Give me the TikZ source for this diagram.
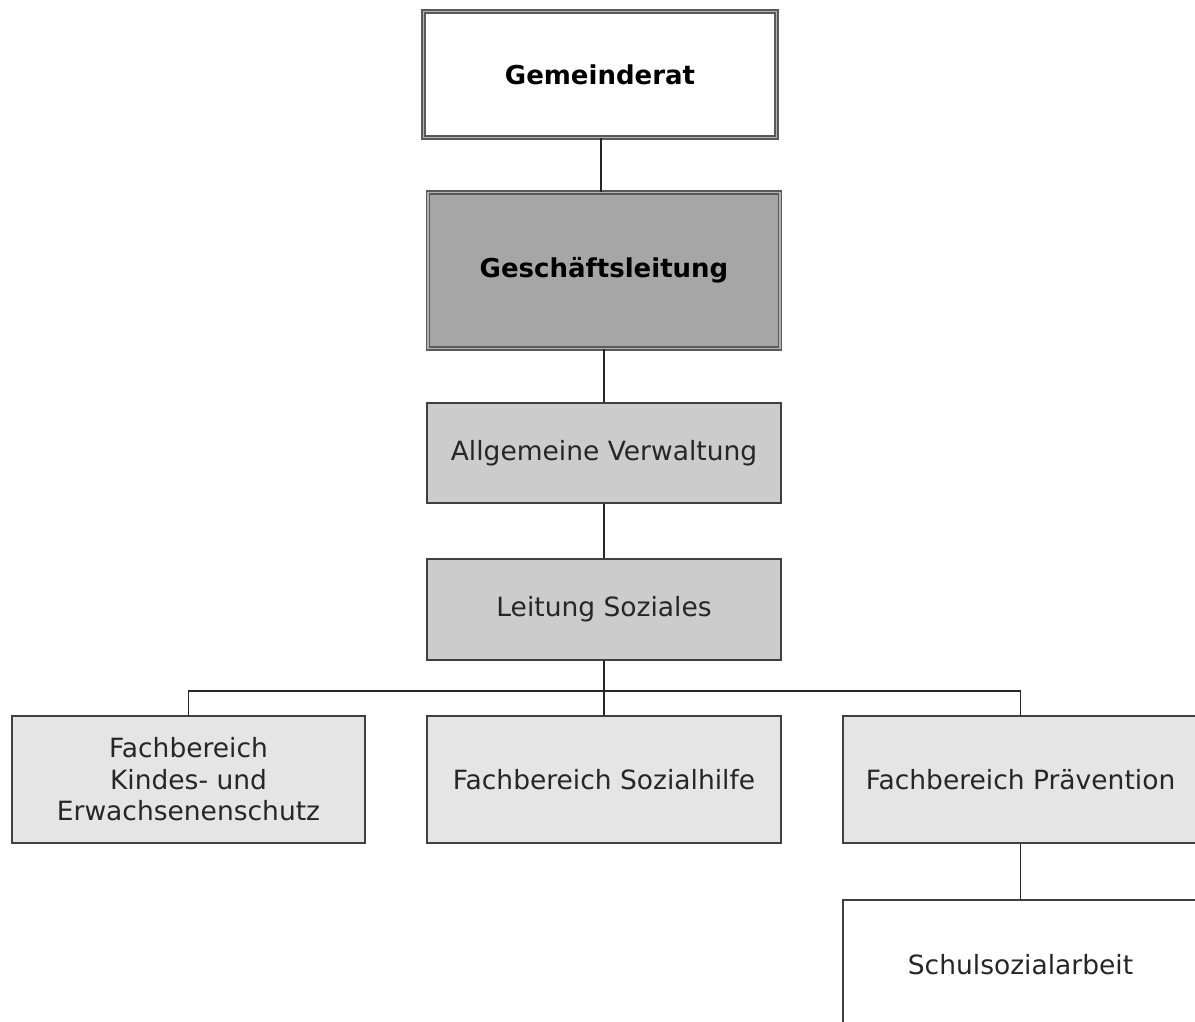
\documentclass[tikz,border=0pt]{standalone}
\usepackage{fontspec}
\setmainfont{DejaVu Sans}
\begin{document}
\begin{tikzpicture}[x=1pt,y=-1pt,
  box/.style={draw=black!75, line width=1.5pt, inner sep=0pt, align=center,
    font=\fontsize{26.5}{31.5}\selectfont, text=black!85},
  dbox/.style={box, draw=black!65, double=black!30, double distance=1.5pt, line width=1.5pt,
    font=\fontsize{26}{31.5}\selectfont\bfseries, text=black},
  conn/.style={draw=black!85, line width=1.5pt}]
\useasboundingbox (0,0) rectangle (1195,1021);
\clip (0,0) rectangle (1195,1021);
\fill[white] (0,0) rectangle (1195,1021);
\node[dbox, fill=white, minimum width=353pt, minimum height=126pt] (gr) at (600,74.5) {Gemeinderat};
\node[dbox, fill=black!35, minimum width=352pt, minimum height=156pt] (gl) at (604,270.5) {Geschäftsleitung};
\node[box, fill=black!20, minimum width=354pt, minimum height=100pt] (av) at (604,453) {Allgemeine Verwaltung};
\node[box, fill=black!20, minimum width=354pt, minimum height=101pt] (ls) at (604,609.5) {Leitung Soziales};
\node[box, fill=black!10, minimum width=353pt, minimum height=127pt] (kes) at (188.5,779.5) {Fachbereich\\Kindes- und\\Erwachsenenschutz};
\node[box, fill=black!10, minimum width=354pt, minimum height=127pt] (sh) at (604,779.5) {Fachbereich Sozialhilfe};
\node[box, fill=black!10, minimum width=355pt, minimum height=127pt] (pr) at (1020.5,779.5) {Fachbereich Prävention};
\node[box, fill=white, minimum width=355pt, minimum height=130pt] (ssa) at (1020.5,965) {Schulsozialarbeit};
\coordinate (bar) at (604,691);
\draw[conn] (gr.south -| 601,0) -- (gl.north -| 601,0);
\draw[conn] (gl.south) -- (av.north);
\draw[conn] (av.south) -- (ls.north);
\draw[conn] (ls.south) -- (sh.north);
\draw[conn] (kes.north) |- (bar) -| (pr.north);
\draw[conn] (pr.south) -- (ssa.north);
\end{tikzpicture}
\end{document}
